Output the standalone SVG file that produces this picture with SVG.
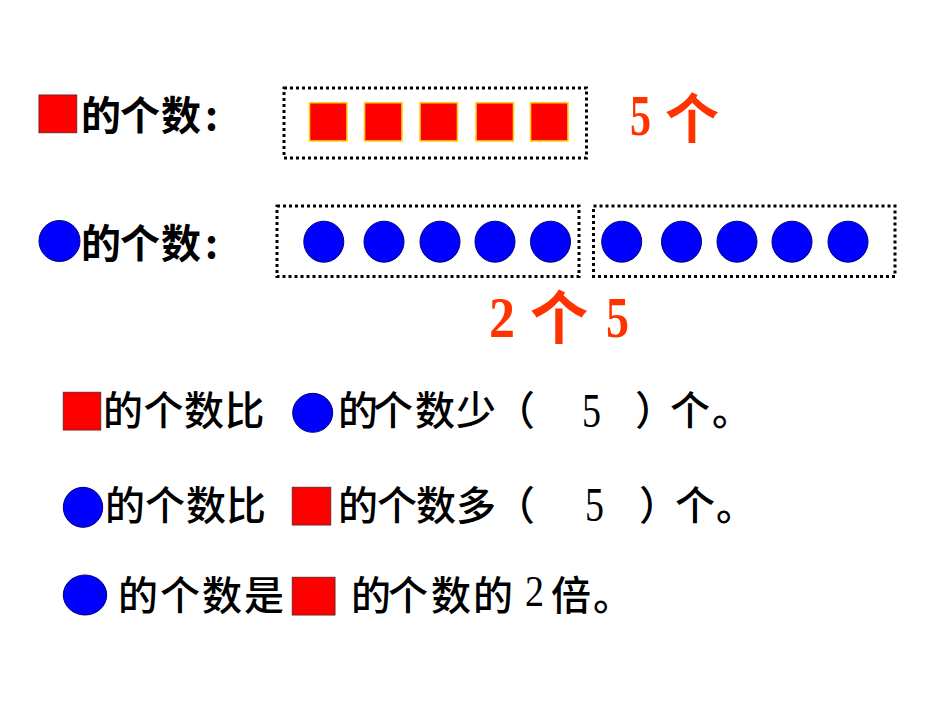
<svg xmlns="http://www.w3.org/2000/svg" width="950" height="713" viewBox="0 0 950 713">
<style>
.zh{font-family:"Noto Sans CJK SC","Noto Sans",sans-serif;font-size:40px;font-weight:500;fill:#000}
.b{font-weight:bold}
.big{font-size:54px}
.dg{font-family:"Liberation Serif",serif;fill:#000}
.red{fill:#FF3300}
.sq{fill:#FF0000;stroke:#7A1F1F;stroke-width:1}
.sqy{fill:#FF0000;stroke:#FFD21F;stroke-width:1.6}
.ci{fill:#0000FF;stroke:#00007A;stroke-width:1}
.dot{fill:none;stroke:#000;stroke-width:3;stroke-dasharray:3 3}
</style>
<rect width="950" height="713" fill="#fff"/>

<g id="row1">
<rect class="sq" x="39" y="95" width="37.7" height="37.7"/>
<text class="zh b" x="81 120 161 205" y="130">的个数:</text>
<rect class="dot" x="284" y="88" width="302.5" height="70"/>
<rect class="sqy" x="309.5" y="102.7" width="37.5" height="38.3"/>
<rect class="sqy" x="364.5" y="102.7" width="37.5" height="38.3"/>
<rect class="sqy" x="420" y="102.7" width="37.5" height="38.3"/>
<rect class="sqy" x="476" y="102.7" width="37.5" height="38.3"/>
<rect class="sqy" x="530.5" y="102.7" width="37.5" height="38.3"/>
<text class="dg red" x="630" y="135" font-size="58" font-weight="bold" textLength="21" lengthAdjust="spacingAndGlyphs">5</text>
<text class="zh b red big" x="665" y="139">个</text>
</g>

<g id="row2">
<ellipse class="ci" cx="59.5" cy="241" rx="20.5" ry="20.5"/>
<text class="zh b" x="81 120 161 205" y="258">的个数:</text>
<rect class="dot" x="277" y="206" width="302" height="70.5"/>
<rect class="dot" x="593.5" y="206" width="301.5" height="70.5"/>
<ellipse class="ci" cx="323.8" cy="241.7" rx="20" ry="20.5"/>
<ellipse class="ci" cx="384" cy="241.7" rx="20" ry="20.5"/>
<ellipse class="ci" cx="440" cy="241.7" rx="20" ry="20.5"/>
<ellipse class="ci" cx="495" cy="241.7" rx="20" ry="20.5"/>
<ellipse class="ci" cx="550.5" cy="241.7" rx="20" ry="20.5"/>
<ellipse class="ci" cx="621.7" cy="241.7" rx="20" ry="20.5"/>
<ellipse class="ci" cx="681.5" cy="241.7" rx="20" ry="20.5"/>
<ellipse class="ci" cx="737" cy="241.7" rx="20" ry="20.5"/>
<ellipse class="ci" cx="792" cy="241.7" rx="20" ry="20.5"/>
<ellipse class="ci" cx="848" cy="241.7" rx="20" ry="20.5"/>
<text class="dg red" x="489" y="337" font-size="58" font-weight="bold" textLength="26" lengthAdjust="spacingAndGlyphs">2</text>
<text class="zh b red big" x="530" y="339" style="font-size:58px">个</text>
<text class="dg red" x="606" y="337" font-size="58" font-weight="bold" textLength="23" lengthAdjust="spacingAndGlyphs">5</text>
</g>

<g id="row3">
<rect class="sq" x="63.3" y="392.3" width="37.4" height="37.7"/>
<text class="zh" x="103 143.5 184 224.5" y="425">的个数比</text>
<ellipse class="ci" cx="312.7" cy="412.8" rx="20" ry="19.5"/>
<text class="zh" x="338 373 415 456" y="425">的个数少</text>
<text class="zh" x="495" y="425">（</text>
<text class="dg" x="582" y="427" font-size="48" textLength="19" lengthAdjust="spacingAndGlyphs">5</text>
<text class="zh" x="635 670 712" y="425">）个。</text>
</g>

<g id="row4">
<ellipse class="ci" cx="83" cy="507.3" rx="19.7" ry="20"/>
<text class="zh" x="105 145 186 226" y="520">的个数比</text>
<rect class="sq" x="292.3" y="487.3" width="38.4" height="37.7"/>
<text class="zh" x="338 377 416 456" y="520">的个数多</text>
<text class="zh" x="495" y="520">（</text>
<text class="dg" x="585" y="521" font-size="48" textLength="19" lengthAdjust="spacingAndGlyphs">5</text>
<text class="zh" x="639 675 716" y="520">）个。</text>
</g>

<g id="row5">
<ellipse class="ci" cx="85" cy="595" rx="21.7" ry="20"/>
<text class="zh" x="118 160 202 244" y="610">的个数是</text>
<rect class="sq" x="292.3" y="577.3" width="42.7" height="37.7"/>
<text class="zh" x="351 388 431 473" y="610">的个数的</text>
<text class="dg" x="525" y="606" font-size="45" textLength="19" lengthAdjust="spacingAndGlyphs">2</text>
<text class="zh" x="551 593" y="610">倍。</text>
</g>
</svg>
